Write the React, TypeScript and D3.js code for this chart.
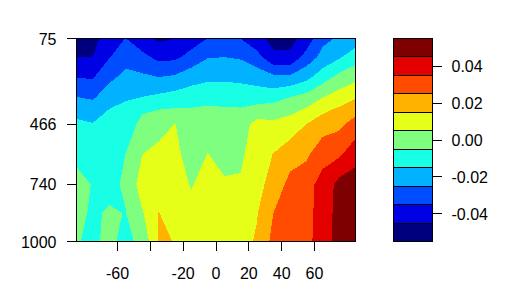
import React from 'react';
import * as d3 from 'd3';

// Grid columns (x values) and pressure levels (rows, top to bottom)
const lons = [-85, -75, -65, -55, -45, -35, -25, -15, -5, 5, 15, 25, 35, 45, 55, 65, 75, 85];
const levels = [75, 160, 250, 340, 400, 466, 600, 740, 870, 1000];

// Field values, one array per pressure level
const p75 = [-0.0536, -0.049, -0.0387, -0.0348, -0.0416, -0.047, -0.0448, -0.040, -0.0348, -0.031, -0.0351, -0.042, -0.048, -0.048, -0.0413, -0.0276, -0.0237, -0.020];
const p160 = [-0.0452, -0.0448, -0.0355, -0.0287, -0.032, -0.0376, -0.0371, -0.0314, -0.0255, -0.025, -0.026, -0.0312, -0.043, -0.0432, -0.031, -0.0218, -0.0162, -0.0097];
const p250 = [-0.0358, -0.0358, -0.0276, -0.0222, -0.0234, -0.0251, -0.0237, -0.0193, -0.0171, -0.0169, -0.0177, -0.0196, -0.0228, -0.0232, -0.0182, -0.0096, -0.0023, 0.0020];
const p340 = [-0.0251, -0.0265, -0.0195, -0.016, -0.0151, -0.0133, -0.0114, -0.0097, -0.0087, -0.0088, -0.0094, -0.0097, -0.0093, -0.0054, -0.002, 0.0043, 0.0092, 0.0137];
const p400 = [-0.018, -0.0204, -0.0146, -0.0131, -0.0063, -0.0049, -0.0041, -0.0041, -0.0033, -0.0039, -0.0041, -0.0017, 0.0003, 0.0022, 0.0063, 0.013, 0.0167, 0.0215];
const p466 = [-0.0132, -0.0144, -0.0133, -0.0105, -0.0021, 0.0014, 0.0052, 0.0, 0.002, 0.0, 0.0, 0.0088, 0.0070, 0.0095, 0.0151, 0.0198, 0.0227, 0.0293];
const p600 = [-0.0075, -0.010, -0.0102, -0.0049, 0.0048, 0.0075, 0.0066, 0.0022, 0.0051, 0.0028, 0.003, 0.0109, 0.0152, 0.020, 0.0227, 0.032, 0.033, 0.0412];
const p740 = [-0.0017, -0.0055, -0.0071, -0.0038, 0.0099, 0.011, 0.008, 0.0045, 0.0083, 0.0058, 0.0062, 0.013, 0.0174, 0.0285, 0.032, 0.038, 0.0484, 0.050];
const p870 = [-0.0031, -0.006, -0.0042, -0.0052, 0.004, 0.0152, 0.0115, 0.0073, 0.0087, 0.008, 0.0092, 0.0145, 0.025, 0.030, 0.032, 0.039, 0.049, 0.052];
const p1000 = [-0.0045, -0.0065, -0.003, -0.0075, -0.0025, 0.0155, 0.0149, 0.010, 0.009, 0.010, 0.012, 0.016, 0.028, 0.030, 0.032, 0.040, 0.049, 0.053];

const grid = [p75, p160, p250, p340, p400, p466, p600, p740, p870, p1000];

// Colour levels
const breaks = [-0.055, -0.045, -0.035, -0.025, -0.015, -0.005, 0.005, 0.015, 0.025, 0.035, 0.045, 0.055];
const colors = ['#00007F', '#0000E5', '#004CFF', '#00B2FF', '#19FFE5', '#7FFF7F', '#E5FF19', '#FFB200', '#FF4C00', '#E50000', '#7F0000'];

// Axes
const xTicks = [-60, -40, -20, 0, 20, 40, 60];
const xTickLabels = ['-60', '', '-20', '0', '20', '40', '60'];
const yTicks = [75, 466, 740, 1000];
const legendTicks = [-0.04, -0.02, 0.0, 0.02, 0.04];
const legendTickLabels = ['-0.04', '-0.02', '0.00', '0.02', '0.04'];

const FONT = "'Liberation Sans', Arial, Helvetica, sans-serif";

export default function App() {
  const W = 508, H = 298;
  const left = 76.5, right = 355.5, top = 38.5, bottom = 241.5;
  const x = d3.scaleLinear().domain([-85, 85]).range([left, right]);
  const y = d3.scaleLinear().domain([75, 1000]).range([top, bottom]);

  const n = lons.length, m = levels.length;
  const flat = grid.flat();
  const thresholds = breaks.slice(1, -1);
  const contours = d3.contours().size([n, m]).thresholds(thresholds)(flat);
  const colIdx = d3.scaleLinear().domain(d3.range(n)).range(lons);
  const rowIdx = d3.scaleLinear().domain(d3.range(m)).range(levels);
  const cl = (v: number, max: number) => Math.max(0, Math.min(max, v - 0.5));
  const proj = d3.geoTransform({
    point(px: number, py: number) {
      // @ts-ignore
      this.stream.point(x(colIdx(cl(px, n - 1))), y(rowIdx(cl(py, m - 1))));
    },
  });
  const path = d3.geoPath(proj as any);

  // legend
  const lx0 = 393.5, lx1 = 432.5;
  const ly = d3.scaleLinear().domain([breaks[0], breaks[breaks.length - 1]]).range([241.5, 38.5]);

  return (
    <svg width={W} height={H} style={{ position: 'absolute', left: 0, top: 0, background: '#fff' }} xmlns="http://www.w3.org/2000/svg">
      <rect x={0} y={0} width={W} height={H} fill="#fff" />
      <defs>
        <clipPath id="plotclip">
          <rect x={left} y={top} width={right - left} height={bottom - top} />
        </clipPath>
      </defs>
      <g clipPath="url(#plotclip)">
        <rect x={left} y={top} width={right - left} height={bottom - top} fill={colors[0]} />
        {contours.map((c, i) => (
          <path key={i} d={path(c as any) || ''} fill={colors[i + 1]} stroke="none" shapeRendering="crispEdges" />
        ))}
      </g>
      <rect x={left} y={top} width={right - left} height={bottom - top} fill="none" stroke="#000" strokeWidth={1} shapeRendering="crispEdges" />

      {/* y axis */}
      {yTicks.map((t) => (
        <g key={t}>
          <line x1={left - 9.5} x2={left} y1={y(t)} y2={y(t)} stroke="#000" shapeRendering="crispEdges" />
          <text x={56.5} y={y(t) + 6} textAnchor="end" fontFamily={FONT} fontSize={16} fill="#000">{t}</text>
        </g>
      ))}

      {/* x axis */}
      {xTicks.map((t, i) => (
        <g key={t}>
          <line x1={x(t)} x2={x(t)} y1={bottom} y2={bottom + 9.5} stroke="#000" shapeRendering="crispEdges" />
          <text x={x(t)} y={278.5} textAnchor="middle" fontFamily={FONT} fontSize={16} fill="#000">{xTickLabels[i]}</text>
        </g>
      ))}

      {/* legend */}
      {colors.map((c, i) => (
        <rect key={i} x={lx0} y={ly(breaks[i + 1])} width={lx1 - lx0} height={ly(breaks[i]) - ly(breaks[i + 1])} fill={c} stroke="#000" strokeWidth={1} shapeRendering="crispEdges" />
      ))}
      {legendTicks.map((t, i) => (
        <g key={i}>
          <line x1={lx1} x2={lx1 + 9} y1={ly(t)} y2={ly(t)} stroke="#000" shapeRendering="crispEdges" />
          <text x={451.5} y={ly(t) + 5.8} textAnchor="start" fontFamily={FONT} fontSize={16} fill="#000">{legendTickLabels[i]}</text>
        </g>
      ))}
    </svg>
  );
}
